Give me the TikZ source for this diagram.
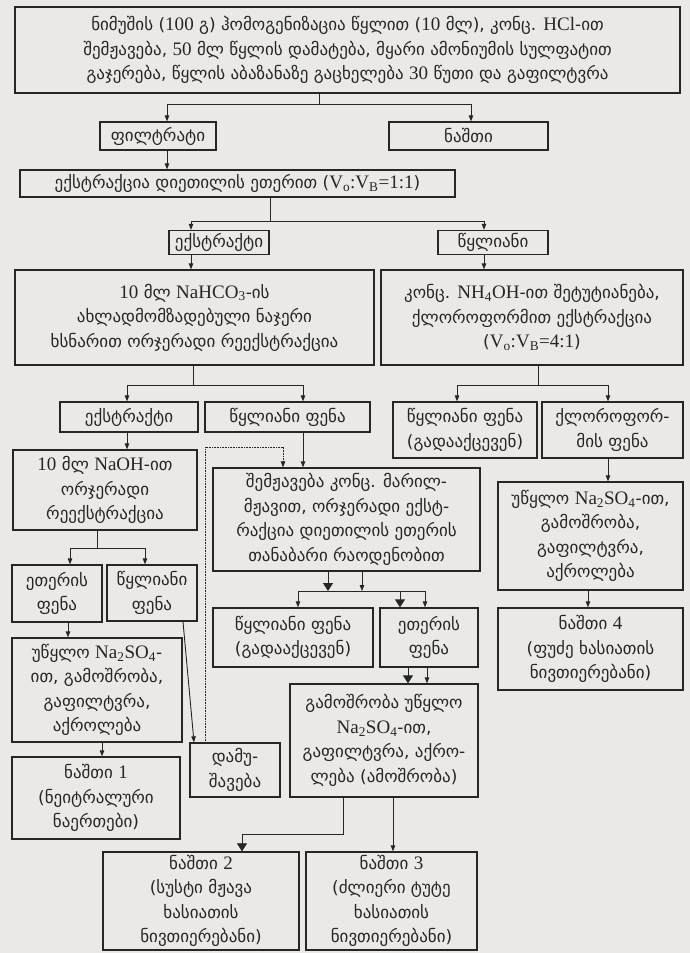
\documentclass[tikz,border=0pt]{standalone}
\usepackage{fontspec}
\setmainfont{DejaVu Sans}
\newfontfamily\latfont[Scale=1.12]{Liberation Serif}
\newcommand{\lat}[1]{{\latfont #1}}
\usepackage{tikz}
\usetikzlibrary{arrows.meta}
\definecolor{paper}{RGB}{234,233,229}
\definecolor{ink}{RGB}{38,38,38}
\tikzset{box node/.style={draw=ink,line width=1.3pt,align=center,inner sep=0.5pt,text=ink,font=\fontsize{17}{24.5}\selectfont},}

\begin{document}
\begin{tikzpicture}[x=1pt,y=-1pt,->,>={Triangle[width=4.5pt,length=6pt]},line width=0.9pt,draw=ink]
    \fill[paper] (0,0) rectangle (690,953);
    \useasboundingbox (0,0) rectangle (690,953);

    \node[box node,minimum width=665pt,minimum height=86pt] (1) at (347.5,50) {ნიმუშის (\lat{100} გ) ჰომოგენიზაცია წყლით (\lat{10} მლ), კონც. \lat{HCl}-ით\\ შემჟავება, \lat{50} მლ წყლის დამატება, მყარი ამონიუმის სულფატით\\ გაჯერება, წყლის აბაზანაზე გაცხელება \lat{30} წუთი და გაფილტვრა};
    \node[box node,minimum width=116pt,minimum height=28pt] (2) at (158,136) {ფილტრატი};
    \node[box node,minimum width=159pt,minimum height=28pt] (3) at (468.5,136) {ნაშთი};
    \node[box node,minimum width=435pt,minimum height=27pt] (4) at (237.5,183.5) {ექსტრაქცია დიეთილის ეთერით (\lat{V\textsubscript{o}:V\textsubscript{B}=1:1})};
    \node[box node,minimum width=100pt,minimum height=24pt] (5) at (219,242.5) {ექსტრაქტი};
    \node[box node,minimum width=110pt,minimum height=24pt] (6) at (493,242.5) {წყლიანი};
    \node[box node,minimum width=359pt,minimum height=95pt] (7) at (194.5,317.5) {\lat{10} მლ \lat{NaHCO\textsubscript{3}}-ის\\ ახლადმომზადებული ნაჯერი\\ ხსნარით ორჯერადი რეექსტრაქცია};
    \node[box node,minimum width=302pt,minimum height=95pt] (8) at (532,317.5) {კონც. \lat{NH\textsubscript{4}OH}-ით შეტუტიანება,\\ ქლოროფორმით ექსტრაქცია\\ (\lat{V\textsubscript{o}:V\textsubscript{B}=4:1})};
    \node[box node,minimum width=138pt,minimum height=30pt] (9) at (129,417) {ექსტრაქტი};
    \node[box node,minimum width=165pt,minimum height=30pt] (10) at (287.5,417) {წყლიანი ფენა};
    \node[box node,minimum width=144pt,minimum height=56pt] (11) at (465,430) {წყლიანი ფენა\\ (გადააქცევენ)};
    \node[box node,minimum width=141pt,minimum height=56pt] (12) at (612.5,430) {ქლოროფორ-\\ მის ფენა};
    \node[box node,minimum width=184pt,minimum height=80pt] (13) at (105,490) {\lat{10} მლ \lat{NaOH}-ით\\ ორჯერადი\\ რეექსტრაქცია};
    \node[box node,minimum width=267pt,minimum height=103pt] (14) at (346.5,519.5) {შემჟავება კონც. მარილ-\\ მჟავით, ორჯერადი ექსტ-\\ რაქცია დიეთილის ეთერის\\ თანაბარი რაოდენობით};
    \node[box node,minimum width=185pt,minimum height=108pt] (15) at (590.5,536) {უწყლო \lat{Na\textsubscript{2}SO\textsubscript{4}}-ით,\\ გამოშრობა,\\ გაფილტვრა,\\ აქროლება};
    \node[box node,minimum width=90pt,minimum height=57pt] (16) at (57,593.5) {ეთერის\\ ფენა};
    \node[box node,minimum width=90pt,minimum height=56pt] (17) at (152,593) {წყლიანი\\ ფენა};
    \node[box node,minimum width=160pt,minimum height=59pt] (18) at (293,637.5) {წყლიანი ფენა\\ (გადააქცევენ)};
    \node[box node,minimum width=98pt,minimum height=59pt] (19) at (429,637.5) {ეთერის\\ ფენა};
    \node[box node,minimum width=185pt,minimum height=82pt] (20) at (590.5,649) {ნაშთი \lat{4}\\ (ფუძე ხასიათის\\ ნივთიერებანი)};
    \node[box node,minimum width=170pt,minimum height=104pt] (21) at (97,690) {უწყლო \lat{Na\textsubscript{2}SO\textsubscript{4}}-\\ ით, გამოშრობა,\\ გაფილტვრა,\\ აქროლება};
    \node[box node,minimum width=188pt,minimum height=113pt] (22) at (384,740.5) {გამოშრობა უწყლო\\ \lat{Na\textsubscript{2}SO\textsubscript{4}}-ით,\\ გაფილტვრა, აქრო-\\ ლება (ამოშრობა)};
    \node[box node,minimum width=168pt,minimum height=82pt] (23) at (96,798) {ნაშთი \lat{1}\\ (ნეიტრალური\\ ნაერთები)};
    \node[box node,minimum width=90pt,minimum height=54pt] (24) at (235,770) {დამუ-\\ შავება};
    \node[box node,minimum width=196pt,minimum height=98pt] (25) at (201,901) {ნაშთი \lat{2}\\ (სუსტი მჟავა\\ ხასიათის\\ ნივთიერებანი)};
    \node[box node,minimum width=171pt,minimum height=98pt] (26) at (391.5,901) {ნაშთი \lat{3}\\ (ძლიერი ტუტე\\ ხასიათის\\ ნივთიერებანი)};

    % bus joints
    \coordinate (j1) at (319,104);
    \coordinate (j2) at (270,221);
    \coordinate (j3) at (193,385);
    \coordinate (j4) at (538,385);
    \coordinate (j5) at (97,548);
    \coordinate (j6) at (362,591);
    \coordinate (j7) at (343,834);
    \coordinate (d1) at (205,447);

    \draw[-] (1.south -| j1) -- (j1);
    \draw (j1) -| (2.north -| 167,0);
    \draw (j1) -| (3.north -| 471,0);
    \draw (2.south -| 167,0) -- (4.north -| 167,0);
    \draw[-] (4.south -| j2) -- (j2);
    \draw (j2) -| (5.north -| 191,0);
    \draw (j2) -| (6.north -| 484,0);
    \draw (5.south -| 191,0) -- (7.north -| 191,0);
    \draw (6.south -| 484,0) -- (8.north -| 484,0);
    \draw[-] (7.south -| j3) -- (j3);
    \draw (j3) -| (9.north -| 127,0);
    \draw (j3) -| (10.north -| 303,0);
    \draw[-] (8.south -| j4) -- (j4);
    \draw (j4) -| (11.north -| 457,0);
    \draw (j4) -| (12.north -| 608,0);
    \draw (9.south -| 127,0) -- (13.north -| 127,0);
    \draw (10.south -| 303,0) -- (14.north -| 303,0);
    \draw (12.south -| 608,0) -- (15.north -| 608,0);
    \draw (15.south -| 588,0) -- (20.north -| 588,0);
    \draw[-] (13.south -| j5) -- (j5);
    \draw (j5) -| (16.north -| 70,0);
    \draw (j5) -| (17.north -| 145,0);
    \draw (16.south -| 68,0) -- (21.north -| 68,0);
    \draw (21.south -| 102,0) -- (23.north -| 102,0);
    \draw (17.south -| 183,0) -- (24.north -| 194,0);
    \draw[line width=0.6pt,densely dotted] (24.north -| d1) -- (d1) -| (14.north -| 283,0);
    % acidified phase
    \draw[-{Triangle[width=10pt,length=8pt]}] (14.south -| 328,0) -- (j6 -| 328,0);
    \draw (14.south -| j6) -- (j6);
    \draw (j6) -| (18.north -| 298,0);
    \draw (j6) -| (19.north -| 425,0);
    \draw[-{Triangle[width=10pt,length=8pt]}] (j6 -| 400,0) -- (19.north -| 400,0);
    \draw[-{Triangle[width=10pt,length=8pt]}] (19.south -| 408,0) -- (22.north -| 408,0);
    \draw (19.south -| 427,0) -- (22.north -| 427,0);
    \draw[line width=0.6pt,-{Triangle[width=10pt,length=8pt]}] (22.south -| j7) -- (j7) -| (25.north -| 242,0);
    \draw (22.south -| 393,0) -- (26.north -| 393,0);
\end{tikzpicture}
\end{document}
